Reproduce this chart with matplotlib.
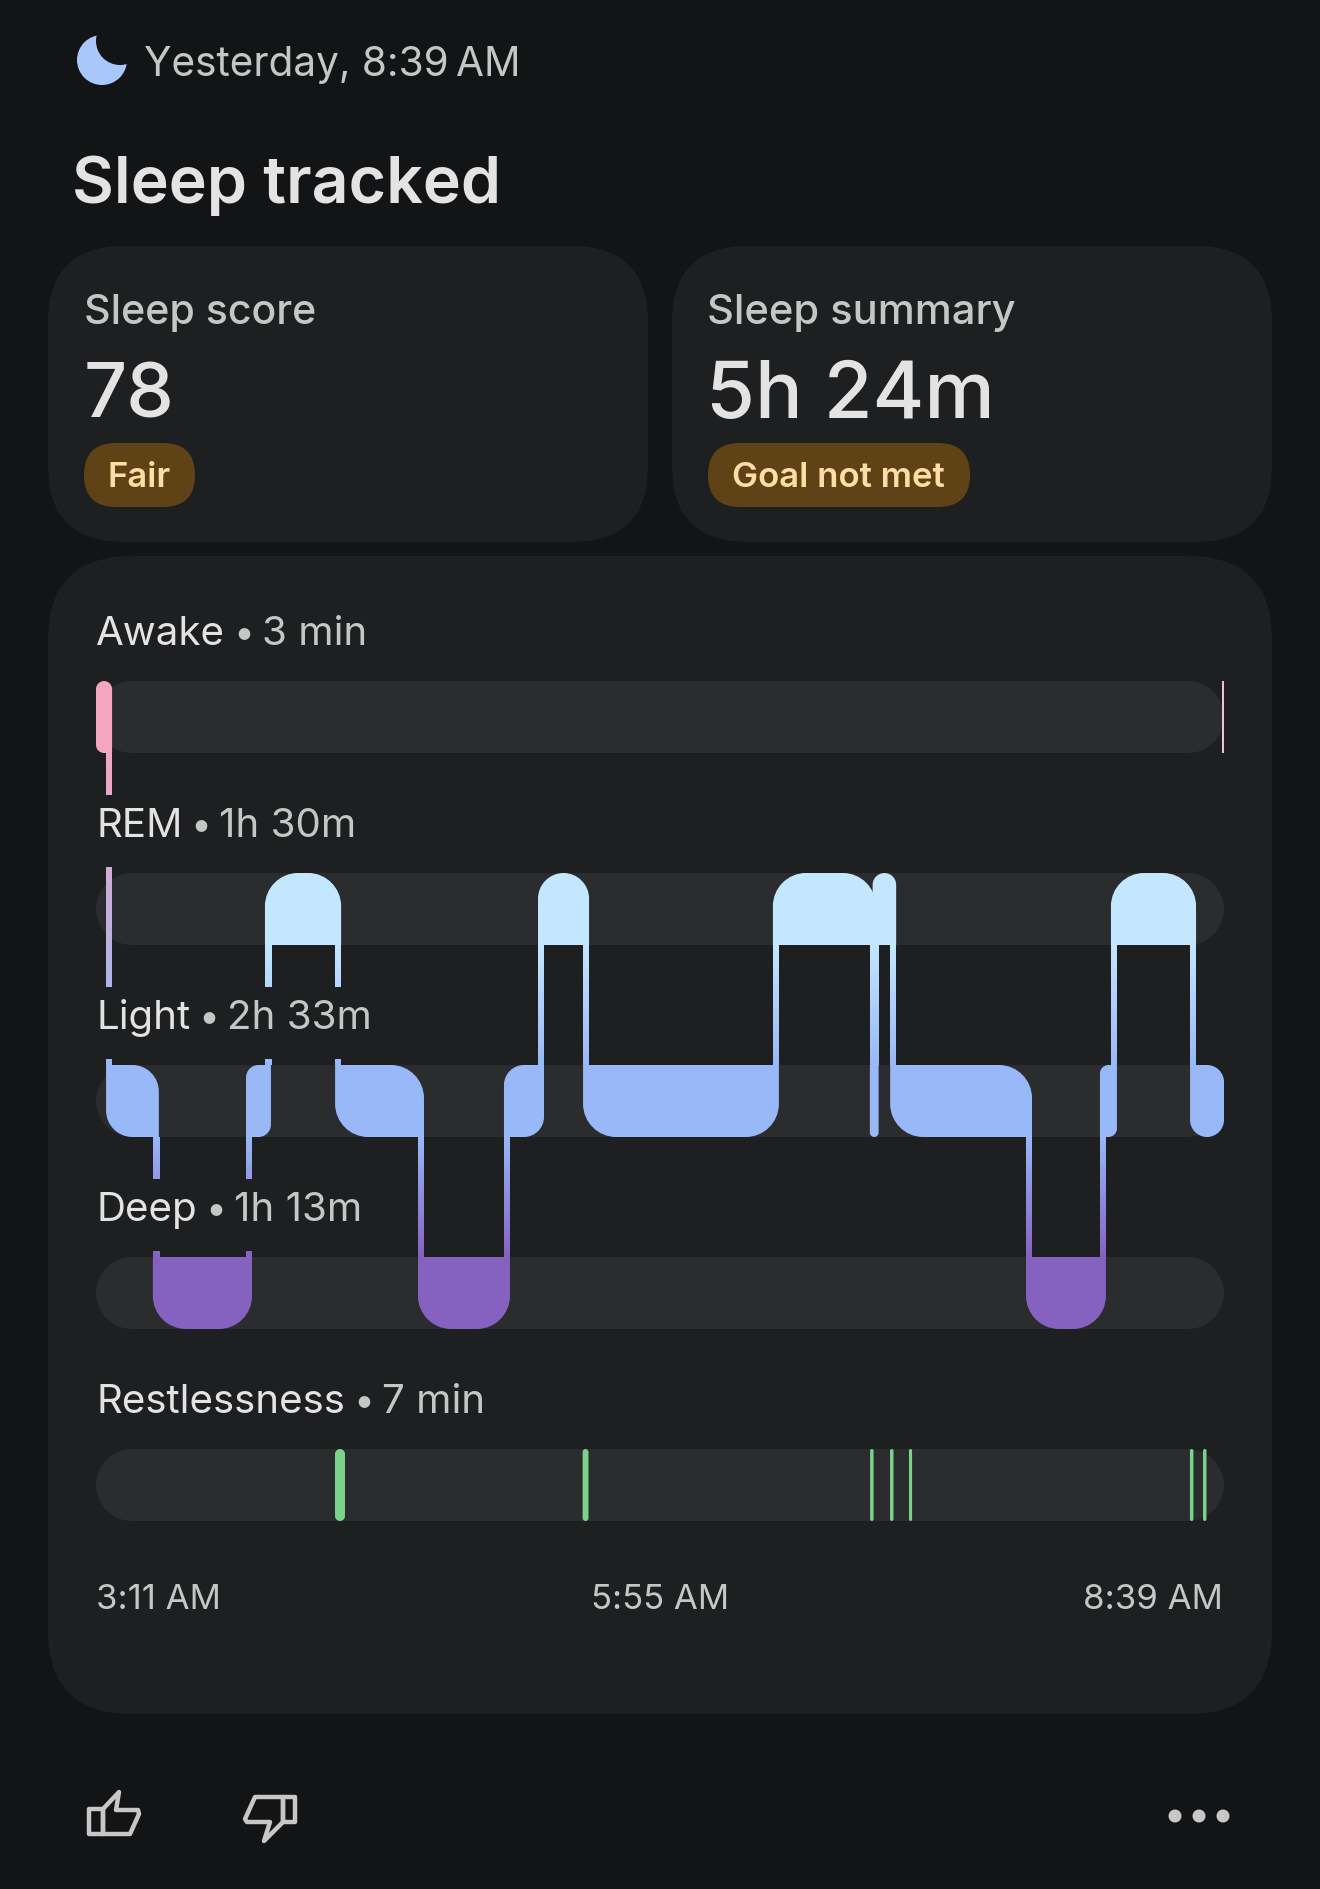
import matplotlib
matplotlib.use("Agg")
import matplotlib.pyplot as plt
import numpy as np
from matplotlib.colors import LinearSegmentedColormap
from matplotlib.patches import Circle, FancyBboxPatch, PathPatch, Polygon, Rectangle
from matplotlib.path import Path

W, H = 1320, 1890
FONT = "Inter"

BG = "#131416"
PANEL = "#1E1F21"
TRACK = "#2B2C2E"
TEXT = "#E3E3E3"
TEXT_DIM = "#C4C7C5"
PILL = "#5F4316"
PILL_TEXT = "#FDDFA6"

# ---- sleep data, minutes after 3:11 AM ----
TOTAL_MIN = 328
STAGES = ["Awake", "REM", "Light", "Deep", "Restlessness"]
STAGE_TEXT = ["3 min", "1h 30m", "2h 33m", "1h 13m", "7 min"]
STAGE_COLORS = ["#F4A6C0", "#C2E7FF", "#98B8F8", "#8662C0", "#7BD38A"]

segment_stages = ["Awake", "Light", "Deep", "Light", "REM", "Light", "Deep", "Light", "REM",
                  "Light", "REM", "Light", "REM", "Light", "Deep", "Light", "REM", "Light"]
segment_edges = [0, 3.8, 17.4, 44.5, 50.0, 70.4, 94.5, 119.5, 129.4, 142.5,
                 197.7, 225.9, 226.7, 231.8, 271.3, 292.8, 296.0, 319.0, 328]
awake_tail = [327.5, 328]

restless_start = [69.5, 141.5, 225.1, 230.9, 236.4, 318.1, 321.9]
restless_len = [2.9, 1.7, 1.0, 1.0, 0.9, 1.0, 1.0]

time_labels = ["3:11 AM", "5:55 AM", "8:39 AM"]

fig = plt.figure(figsize=(W / 100, H / 100), dpi=100, facecolor=BG)


def pixel_axes():
    a = fig.add_axes([0, 0, 1, 1])
    a.set_xlim(0, W)
    a.set_ylim(H, 0)
    a.axis("off")
    a.patch.set_alpha(0)
    return a


def round_box(a, x0, y0, x1, y1, r, color, z=1):
    a.add_patch(FancyBboxPatch((x0, y0), x1 - x0, y1 - y0, boxstyle=f"round,pad=0,rounding_size={r}",
                               fc=color, ec="none", zorder=z))


def label(a, x, y, s, size, color=TEXT, weight="normal", ha="left", z=5):
    return a.text(x, y, s, fontsize=size, color=color, fontweight=weight, ha=ha, va="baseline",
                  family=FONT, zorder=z)


# ---- background cards ----
ui = pixel_axes()
round_box(ui, 48, 247, 648, 543, 76, PANEL)
round_box(ui, 672, 247, 1272, 543, 76, PANEL)
round_box(ui, 48, 557, 1272, 1715, 84, PANEL)

ui.add_patch(Circle((102, 61), 25, fc="#A8C7FA", ec="none", zorder=2))
ui.add_patch(Circle((120, 42), 24, fc=BG, ec="none", zorder=3))
label(ui, 144, 76, "Yesterday, 8:39\u2009AM", 29.2, TEXT_DIM)
label(ui, 72, 203, "Sleep tracked", 46.4, TEXT, "semibold")

label(ui, 84, 324, "Sleep score", 29.6, TEXT_DIM, "medium")
label(ui, 84, 418, "78", 54.5, TEXT, "medium")
round_box(ui, 84, 444, 195, 508, 32, PILL, 2)
label(ui, 139.5, 487, "Fair", 25, PILL_TEXT, "semibold", ha="center")

label(ui, 707, 324, "Sleep summary", 30, TEXT_DIM, "medium")
label(ui, 706, 418, "5h 24m", 57, TEXT, "medium")
round_box(ui, 708, 444, 970, 508, 32, PILL, 2)
label(ui, 838, 487, "Goal not met", 25, PILL_TEXT, "semibold", ha="center")

# ---- stage chart: x in minutes, y in rows ----
ROW_PX = 192
BAR_PX = 72
half_row = BAR_PX / ROW_PX / 2
ax = fig.add_axes([96 / W, 1 - 1522 / H, 1128 / W, (1522 - 682) / H])
ax.set_xlim(0, TOTAL_MIN)
ax.set_ylim(len(STAGES) - 1 + half_row, -half_row)
ax.axis("off")
ax.patch.set_alpha(0)
px_min = 1128 / TOTAL_MIN
pad = 3 / px_min


def block(x0, x1, row, color, corners, z=3, max_r=33):
    # corners: top-left, top-right, bottom-right, bottom-left
    w_px = (x1 - x0) * px_min
    r = min(max_r, w_px / 2)
    rx, ry = r / px_min, r / ROW_PX
    k = 0.45
    top, bot = row - half_row, row + half_row
    verts, codes = [], []

    def corner(px, py, ax_, ay_, bx_, by_, rounded):
        # walk round the outline, a corner at a time
        if rounded:
            p0 = (px + ax_ * rx, py + ay_ * ry)
            p3 = (px + bx_ * rx, py + by_ * ry)
            c1 = (px + ax_ * rx * k, py + ay_ * ry * k)
            c2 = (px + bx_ * rx * k, py + by_ * ry * k)
            verts.extend([p0, c1, c2, p3])
            codes.extend([Path.LINETO, Path.CURVE4, Path.CURVE4, Path.CURVE4])
        else:
            verts.append((px, py))
            codes.append(Path.LINETO)

    corner(x0, top, 0, 1, 1, 0, corners[0])
    corner(x1, top, -1, 0, 0, 1, corners[1])
    corner(x1, bot, 0, -1, -1, 0, corners[2])
    corner(x0, bot, 1, 0, 0, -1, corners[3])
    codes[0] = Path.MOVETO
    verts.append(verts[0])
    codes.append(Path.CLOSEPOLY)
    ax.add_patch(PathPatch(Path(verts, codes), fc=color, ec="none", zorder=z))


for row in range(len(STAGES)):
    block(0, TOTAL_MIN, row, TRACK, (True, True, True, True), z=1, max_r=36)

rows = [STAGES.index(s) for s in segment_stages]
for i, row in enumerate(rows):
    prev_row = rows[i - 1] if i > 0 else None
    next_row = rows[i + 1] if i < len(rows) - 1 else None
    x0 = segment_edges[i] - (pad if i > 0 else 0)
    x1 = segment_edges[i + 1] + (pad if next_row is not None else 0)
    tl = prev_row is None or prev_row > row
    bl = prev_row is None or prev_row < row
    tr = next_row is None or next_row > row
    br = next_row is None or next_row < row
    block(x0, x1, row, STAGE_COLORS[row], (tl, tr, br, bl))

# vertical links between stages, fading from one colour to the next
for i in range(len(rows) - 1):
    a_row, b_row = rows[i], rows[i + 1]
    upper, lower = min(a_row, b_row), max(a_row, b_row)
    t = segment_edges[i + 1]
    cmap = LinearSegmentedColormap.from_list("link", [STAGE_COLORS[upper], STAGE_COLORS[lower]])
    grad = np.linspace(0, 1, 128).reshape(-1, 1)
    ax.imshow(grad, cmap=cmap, aspect="auto", zorder=4, interpolation="bilinear",
              extent=[t - pad, t + pad, lower - half_row, upper + half_row], origin="upper")

ax.add_patch(Rectangle((awake_tail[0], -half_row), awake_tail[1] - awake_tail[0], 2 * half_row,
                       fc="#EBC4D2", ec="none", zorder=3))

restless_row = STAGES.index("Restlessness")
for start, length in zip(restless_start, restless_len):
    block(start, start + length, restless_row, STAGE_COLORS[restless_row], (True, True, True, True))

ax.set_xlim(0, TOTAL_MIN)
ax.set_ylim(len(STAGES) - 1 + half_row, -half_row)

# ---- stage headings sit on top of the links ----
top = pixel_axes()
renderer = fig.canvas.get_renderer()
for i, (name, val) in enumerate(zip(STAGES, STAGE_TEXT)):
    base = 645 + ROW_PX * i
    if i > 0:
        top.add_patch(Rectangle((90, 682 + ROW_PX * i - 78), 290, 72, fc=PANEL, ec="none", zorder=1))
    t1 = label(top, 96, base, name, 29, TEXT)
    x_end = t1.get_window_extent(renderer).x1
    label(top, x_end + 19, base, "•", 27, TEXT_DIM, ha="center")
    label(top, x_end + 37, base, val, 29, TEXT_DIM)

label(top, 96, 1609, time_labels[0], 25, TEXT_DIM)
label(top, 660, 1609, time_labels[1], 25, TEXT_DIM, ha="center")
label(top, 1223, 1609, time_labels[2], 25, TEXT_DIM, ha="right")

# ---- bottom row icons ----
ICON = "#C7C7C7"
lw = 3.2
up_box = [(89, 1810), (103, 1810), (103, 1835), (89, 1835)]
up_hand = [(103, 1810), (119, 1793), (116, 1811), (138, 1811), (139, 1815), (130, 1835), (103, 1835)]
down_box = [(283, 1798), (295, 1798), (295, 1823), (283, 1823)]
down_hand = [(283, 1798), (255, 1798), (245, 1820), (247, 1823), (270, 1823), (264, 1842), (283, 1823)]
for pts in [up_box, up_hand, down_box, down_hand]:
    top.add_patch(Polygon(pts, closed=True, fc="none", ec=ICON, lw=lw, joinstyle="round", zorder=3))
for x in [1175, 1199, 1223]:
    top.add_patch(Circle((x, 1817), 6.5, fc=ICON, ec="none"))

fig.savefig("out.png", dpi=100, facecolor=BG)
plt.close(fig)
